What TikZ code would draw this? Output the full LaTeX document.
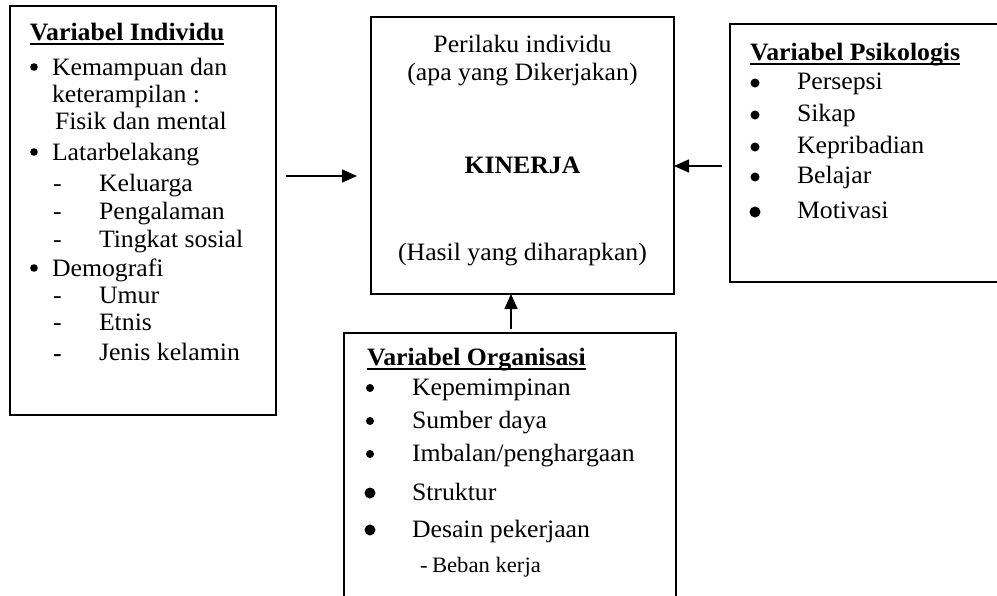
\documentclass[tikz,border=0pt]{standalone}
\usepackage{fontspec}
\setmainfont{Liberation Serif}
\usetikzlibrary{arrows.meta}
\begin{document}
\begin{tikzpicture}[x=1pt,y=-1pt,
  box/.style={draw, line width=1.8pt, rectangle, inner sep=0pt, outer sep=0pt, anchor=north west},
  txt/.style={anchor=base west, inner sep=0pt, outer sep=0pt, xscale=1.03, font=\fontsize{25}{30}\selectfont},
  ttl/.style={txt, font=\fontsize{25}{30}\selectfont\bfseries},
  ctr/.style={txt, anchor=base},
  ctrb/.style={ctr, font=\fontsize{25}{30}\selectfont\bfseries},
  small/.style={txt, font=\fontsize{22}{26}\selectfont},
  arr/.style={line width=1.5pt, -{Triangle[length=15pt,width=13pt]}},
  ul/.style={line width=1.8pt}]
\useasboundingbox (0,0) rectangle (997,595);

% boxes
\node[box, minimum width=266pt, minimum height=409pt] (ind) at (10,6) {};
\node[box, minimum width=303pt, minimum height=277pt] (kin) at (371,17) {};
\begin{scope}
  \clip (0,0) rectangle (997,595);
  \node[box, minimum width=280pt, minimum height=258pt] (psi) at (730,24) {};
  \node[box, minimum width=332pt, minimum height=290pt] (org) at (344,333) {};
\end{scope}

% arrows
\coordinate (yl) at (0,176);
\coordinate (yr) at (0,166);
\coordinate (xb) at (511,0);
\draw[arr, shorten <=10pt, shorten >=14pt] (yl -| ind.east) -- (yl -| kin.west);
\draw[arr, shorten <=8pt] (yr -| psi.west) -- (yr -| kin.east);
\draw[arr, shorten <=4pt] (xb |- org.north) -- (xb |- kin.south);

% left box
\node[ttl] (i0) at (30,40) {Variabel Individu};
\draw[ul] ([yshift=-4pt]i0.base west) -- ([yshift=-4pt]i0.base east);
\fill (34,67) circle[radius=3.8pt];
\fill (34,152) circle[radius=3.8pt];
\fill (34,268) circle[radius=3.8pt];
\node[txt] (i1) at (52,75) {Kemampuan dan};
\node[txt] (i2) at (52,102) {keterampilan :};
\node[txt] (i3) at (55,129) {Fisik dan mental};
\node[txt] (i4) at (52,160) {Latarbelakang};
\node[txt] (d1) at (53,191) {-};
\node[txt] (i5) at (99,191) {Keluarga};
\node[txt] (d2) at (53,219) {-};
\node[txt] (i6) at (99,219) {Pengalaman};
\node[txt] (d3) at (53,247) {-};
\node[txt] (i7) at (99,247) {Tingkat sosial};
\node[txt] (i8) at (52,276) {Demografi};
\node[txt] (d4) at (53,303) {-};
\node[txt] (i9) at (99,303) {Umur};
\node[txt] (d5) at (53,330) {-};
\node[txt] (i10) at (99,330) {Etnis};
\node[txt] (d6) at (53,361) {\textbf{-}};
\node[txt] (i11) at (99,360) {Jenis kelamin};

% centre box
\node[ctr] (k1) at (522.5,52) {Perilaku individu};
\node[ctr] (k2) at (522.5,80) {(apa yang Dikerjakan)};
\node[ctrb] (k3) at (522.5,173) {KINERJA};
\node[ctr] (k4) at (522.5,260) {(Hasil yang diharapkan)};

% right box
\node[ttl] (p0) at (750,60) {Variabel Psikologis};
\draw[ul] ([yshift=-4pt]p0.base west) -- ([yshift=-4pt]p0.base east);
\fill (755,83) circle[radius=4.5pt];
\fill (755,115) circle[radius=4.5pt];
\fill (755,147) circle[radius=4.5pt];
\fill (755,177) circle[radius=4.5pt];
\fill (755,212) circle[radius=5.5pt];
\node[txt] (p1) at (797,89) {Persepsi};
\node[txt] (p2) at (797,121) {Sikap};
\node[txt] (p3) at (797,153) {Kepribadian};
\node[txt] (p4) at (797,183) {Belajar};
\node[txt] (p5) at (797,218) {Motivasi};

% bottom box
\node[ttl] (o0) at (367,365) {Variabel Organisasi};
\draw[ul] ([yshift=-4pt]o0.base west) -- ([yshift=-4pt]o0.base east);
\fill (370,388) circle[radius=4pt];
\fill (370,421) circle[radius=4pt];
\fill (370,454) circle[radius=4pt];
\fill (370,493) circle[radius=5.5pt];
\fill (370,530) circle[radius=5.5pt];
\node[txt] (o1) at (412,395) {Kepemimpinan};
\node[txt] (o2) at (412,428) {Sumber daya};
\node[txt] (o3) at (412,461) {Imbalan/penghargaan};
\node[txt] (o4) at (412,500) {Struktur};
\node[txt] (o5) at (412,537) {Desain pekerjaan};
\node[small] (o6d) at (420,572) {-};
\node[small] (o6) at (432,572) {Beban kerja};
\end{tikzpicture}
\end{document}
